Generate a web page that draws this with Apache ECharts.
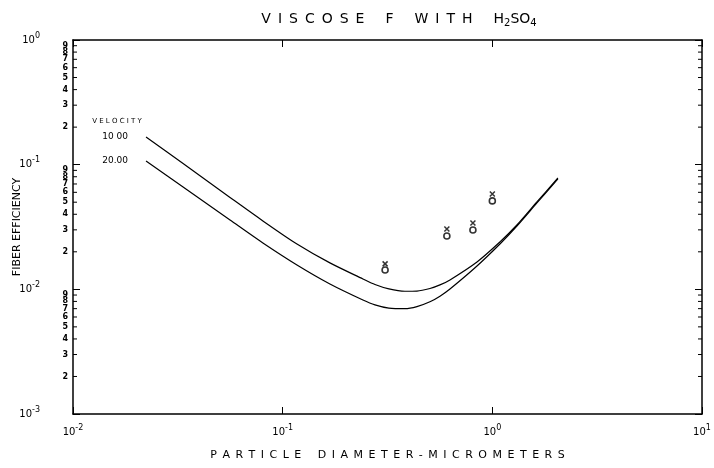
<!DOCTYPE html>
<html>
<head>
<meta charset="utf-8">
<script src="https://cdn.jsdelivr.net/npm/echarts@6/dist/echarts.min.js"></script>
<style>
  html, body { margin: 0; padding: 0; background: #fff; }
  #main { width: 714px; height: 468px; }
</style>
</head>
<body>
<div id="main"></div>
<script>
// 粒径 (micrometers)
var diameter = [0.0223, 0.0335, 0.0561, 0.0805, 0.117, 0.168, 0.2415, 0.2756, 0.3212, 0.3831, 0.4369, 0.504, 0.5626, 0.628, 0.845, 1.087, 1.31, 1.632, 2.055]
// 计算曲线 velocity 10.00 / 20.00
var eff10 = [0.1668, 0.1022, 0.0546, 0.0354, 0.0231, 0.0163, 0.01212, 0.01093, 0.01007, 0.00965, 0.00968, 0.01015, 0.01085, 0.0119, 0.01658, 0.024, 0.0328, 0.0502, 0.0782]
var eff20 = [0.1071, 0.0663, 0.036, 0.02355, 0.01569, 0.01105, 0.00822, 0.00751, 0.00707, 0.00699, 0.00727, 0.00795, 0.00882, 0.01007, 0.0154, 0.0231, 0.0322, 0.0493, 0.0768]
// 实测点
var diaMeasured = [0.308, 0.607, 0.808, 1.0]
var effCircle = [0.0143, 0.0268, 0.0299, 0.0512]
var effCross = [0.016, 0.0305, 0.0341, 0.0582]
// y 轴小刻度
var yDecades = [0.001, 0.01, 0.1]
var minorDigits = [2, 3, 4, 5, 6, 7, 8, 9]

var FONT = 'DejaVu Sans'
var EN = '\u2002'
var myChart = echarts.init(document.getElementById('main'))

function pairs(xs, ys) {
  return xs.map(function(x, i) { return [x, ys[i]] })
}

// 字母间加空格, 模仿绘图仪字体
function spaced(s) {
  return s.split(' ').map(function(w) { return w.split('').join(EN) }).join(EN + EN + EN)
}

var minorData = []
yDecades.forEach(function(d) {
  minorDigits.forEach(function(m) {
    minorData.push([0.01, +(d * m).toPrecision(3), m])
  })
})

function powLabel(value) {
  var e = Math.round(Math.log10(value))
  return '{b|10}{e|' + (e < 0 ? '-' + (-e) : e) + '}'
}

var powRich = {
  b: { fontFamily: FONT, fontSize: 10, color: '#000' },
  e: { fontFamily: FONT, fontSize: 8, color: '#000', padding: [0, 0, 9, 0] }
}

var lineAxis = { lineStyle: { color: '#000', width: 1.5 } }
var tickIn = { inside: true, length: 7, lineStyle: { color: '#000', width: 1 } }

var option = {
  animation: false,
  backgroundColor: '#fff',
  title: {
    text: spaced('VISCOSE F WITH') + EN + EN + EN + 'H{s|2}SO{s|4}',
    left: 394,
    top: 5,
    textAlign: 'center',
    textStyle: {
      fontFamily: FONT,
      fontSize: 14,
      fontWeight: 'normal',
      color: '#000',
      rich: {
        s: { fontFamily: FONT, fontSize: 10, color: '#000', padding: [8, 0, 0, 0] }
      }
    }
  },
  grid: { left: 73, right: 12, top: 40, bottom: 54, outerBoundsMode: 'none' },
  xAxis: [
    {
      type: 'log',
      min: 0.01,
      max: 10,
      name: spaced('PARTICLE DIAMETER-MICROMETERS'),
      nameLocation: 'middle',
      nameGap: 36,
      nameMoveOverlap: false,
      nameTextStyle: { fontFamily: FONT, fontSize: 11, color: '#000' },
      axisLine: lineAxis,
      axisTick: tickIn,
      axisLabel: { margin: 10, formatter: powLabel, rich: powRich },
      splitLine: { show: false }
    },
    {
      type: 'log',
      position: 'top',
      min: 0.01,
      max: 10,
      axisLine: lineAxis,
      axisTick: tickIn,
      axisLabel: { show: false },
      splitLine: { show: false }
    }
  ],
  yAxis: [
    {
      type: 'log',
      min: 0.001,
      max: 1,
      name: 'FIBER EFFICIENCY',
      nameLocation: 'middle',
      nameGap: 50,
      nameMoveOverlap: false,
      nameTextStyle: { fontFamily: FONT, fontSize: 11, color: '#000' },
      axisLine: lineAxis,
      axisTick: tickIn,
      axisLabel: { margin: 33, formatter: powLabel, rich: powRich },
      splitLine: { show: false }
    },
    {
      type: 'log',
      position: 'right',
      min: 0.001,
      max: 1,
      axisLine: lineAxis,
      axisTick: tickIn,
      axisLabel: { show: false },
      splitLine: { show: false }
    }
  ],
  series: [
    {
      name: '10.00',
      type: 'line',
      smooth: 0.3,
      symbol: 'none',
      lineStyle: { color: '#000', width: 1.2 },
      data: pairs(diameter, eff10),
      markPoint: {
        symbolSize: 0,
        label: { fontFamily: FONT, fontSize: 9, color: '#000' },
        data: [
          { coord: [diameter[0], eff10[0]], label: { position: 'left', distance: 18, formatter: '10 00' } },
          { coord: [diameter[0], eff10[0]], label: { position: 'inside', offset: [-29, -16], formatter: 'V E L O C I T Y', fontSize: 7 } }
        ]
      }
    },
    {
      name: '20.00',
      type: 'line',
      smooth: 0.3,
      symbol: 'none',
      lineStyle: { color: '#000', width: 1.2 },
      data: pairs(diameter, eff20),
      markPoint: {
        symbolSize: 0,
        label: { fontFamily: FONT, fontSize: 9, color: '#000' },
        data: [
          { coord: [diameter[0], eff20[0]], label: { position: 'left', distance: 18, formatter: '20.00' } }
        ]
      }
    },
    {
      type: 'scatter',
      symbol: 'circle',
      symbolSize: 6,
      itemStyle: { color: '#fff', borderColor: '#000', borderWidth: 1.6 },
      data: pairs(diaMeasured, effCircle)
    },
    {
      type: 'scatter',
      symbol: 'path://M0,0L10,10M10,0L0,10',
      symbolSize: 5,
      itemStyle: { color: 'none', borderColor: '#000', borderWidth: 1.5 },
      data: pairs(diaMeasured, effCross)
    },
    {
      // y 轴 2..9 小刻度和标注
      type: 'custom',
      silent: true,
      clip: false,
      data: minorData,
      renderItem: function(params, api) {
        var p = api.coord([api.value(0), api.value(1)])
        var q = api.coord([10, api.value(1)])
        return {
          type: 'group',
          children: [
            { type: 'line', shape: { x1: p[0], y1: p[1], x2: p[0] + 4, y2: p[1] }, style: { stroke: '#000', lineWidth: 1 } },
            { type: 'line', shape: { x1: q[0], y1: q[1], x2: q[0] - 4, y2: q[1] }, style: { stroke: '#000', lineWidth: 1 } },
            {
              type: 'text',
              x: p[0] - 5,
              y: p[1],
              style: {
                text: String(api.value(2)),
                fontFamily: FONT,
                fontSize: 8,
                fontWeight: 'bold',
                fill: '#000',
                align: 'right',
                verticalAlign: 'middle'
              }
            }
          ]
        }
      }
    }
  ]
}

option && myChart.setOption(option)
</script>
</body>
</html>
